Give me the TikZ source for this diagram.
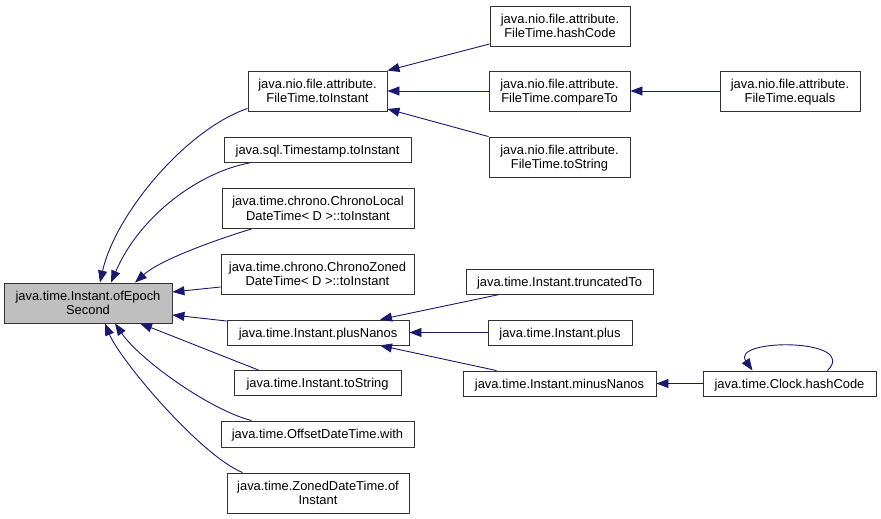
\documentclass[tikz,border=0pt]{standalone}
\usepackage{fontspec}
\setmainfont{Liberation Sans}
\usetikzlibrary{arrows.meta}
\definecolor{edgecol}{HTML}{191970}
\definecolor{mainfill}{HTML}{BFBFBF}
\begin{document}
\begin{tikzpicture}[x=1pt,y=-1pt,
  box/.style={draw=black!80, line width=0.9pt, fill=white, inner sep=0pt, align=center,
    font=\fontsize{12.9}{14.5}\selectfont, text depth=0pt},
  mainbox/.style={box, fill=mainfill},
  edge/.style={draw=edgecol, line width=0.9pt, -{Triangle[length=12pt,width=9pt]}}]
\path[use as bounding box] (0,0) rectangle (881,519);

\node[mainbox, minimum width=168pt, minimum height=40pt] (main) at (88,303) {java.time.Instant.ofEpoch\\Second};

\node[box, minimum width=139pt, minimum height=40pt] (ftinst) at (317.5,91) {java.nio.file.attribute.\\FileTime.toInstant};
\node[box, minimum width=187pt, minimum height=25pt] (tsinst) at (317.5,150) {java.sql.Timestamp.toInstant};
\node[box, minimum width=192pt, minimum height=40pt] (cldt) at (318,208.5) {java.time.chrono.ChronoLocal\\DateTime< D >::toInstant};
\node[box, minimum width=193pt, minimum height=40pt] (czdt) at (317.5,274) {java.time.chrono.ChronoZoned\\DateTime< D >::toInstant};
\node[box, minimum width=182pt, minimum height=25pt] (plusn) at (318,332.5) {java.time.Instant.plusNanos};
\node[box, minimum width=167pt, minimum height=25pt] (itostr) at (317.5,383) {java.time.Instant.toString};
\node[box, minimum width=193pt, minimum height=26pt] (odtwith) at (317.5,434) {java.time.OffsetDateTime.with};
\node[box, minimum width=182pt, minimum height=40pt] (zdtof) at (318,493) {java.time.ZonedDateTime.of\\Instant};

\node[box, minimum width=140pt, minimum height=40pt] (fthash) at (560,26) {java.nio.file.attribute.\\FileTime.hashCode};
\node[box, minimum width=141pt, minimum height=40pt] (ftcmp) at (559.5,91) {java.nio.file.attribute.\\FileTime.compareTo};
\node[box, minimum width=141pt, minimum height=40pt] (ftstr) at (559.5,157) {java.nio.file.attribute.\\FileTime.toString};
\node[box, minimum width=140pt, minimum height=40pt] (ftequals) at (790,91) {java.nio.file.attribute.\\FileTime.equals};

\node[box, minimum width=187pt, minimum height=25pt] (trunc) at (559.5,281.5) {java.time.Instant.truncatedTo};
\node[box, minimum width=144pt, minimum height=25pt] (iplus) at (560,332.5) {java.time.Instant.plus};
\node[box, minimum width=193pt, minimum height=25pt] (minusn) at (559.5,383.5) {java.time.Instant.minusNanos};
\node[box, minimum width=173pt, minimum height=25pt] (clock) at (789.5,383.5) {java.time.Clock.hashCode};

% edges into main
\draw[edge] ([yshift=3pt]ftinst.south west) .. controls (185,130) and (115,215) .. ([xshift=12pt]main.north);
\draw[edge] ([xshift=26pt]tsinst.south west) .. controls (200,172) and (140,215) .. ([xshift=23pt]main.north);
\draw[edge] ([xshift=30pt]cldt.south west) .. controls (215,240) and (160,260) .. ([xshift=47pt]main.north);
\draw[edge] ([yshift=-13pt]czdt.west) -- ([yshift=11pt]main.east);
\draw[edge] ([yshift=11.5pt]plusn.west) -- ([yshift=-12pt]main.east);
\draw[edge] ([xshift=25pt]itostr.north west) .. controls (220,355) and (170,335) .. ([xshift=52pt]main.south);
\draw[edge] ([xshift=31pt]odtwith.north west) .. controls (210,410) and (140,360) .. ([xshift=27pt]main.south);
\draw[edge] ([xshift=16pt]zdtof.north west) .. controls (200,455) and (120,360) .. ([xshift=17pt]main.south);

% FileTime edges
\draw[edge] ([yshift=-18pt]fthash.west) -- (ftinst.north east);
\draw[edge] (ftcmp.west) -- (ftinst.east);
\draw[edge] (ftstr.north west) -- ([yshift=-18pt]ftinst.east);
\draw[edge] (ftequals.west) -- (ftcmp.east);

% plusNanos edges
\draw[edge] ([xshift=34pt]trunc.south west) -- ([xshift=62pt]plusn.north);
\draw[edge] (iplus.west) -- (plusn.east);
\draw[edge] ([xshift=34pt]minusn.north west) -- ([xshift=62pt]plusn.south);
\draw[edge] (clock.west) -- (minusn.east);
\draw[edge] ([xshift=38pt]clock.north) .. controls (860,338) and (730,338) .. ([xshift=-37pt]clock.north);
\end{tikzpicture}
\end{document}
